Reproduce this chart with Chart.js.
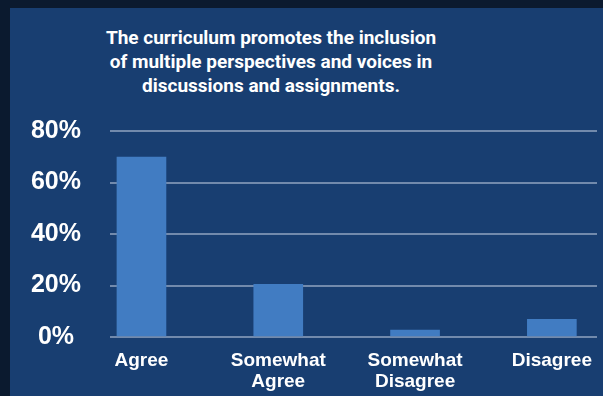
<!DOCTYPE html>
<html>
<head>
<meta charset="utf-8">
<script src="https://cdn.jsdelivr.net/npm/chart.js@4"></script>
<style>
    html, body { margin: 0; padding: 0; }
    body {
        width: 603px; height: 396px; overflow: hidden;
        background: #0b1a2f; position: relative;
    }
    #painel {
        position: absolute; left: 10px; top: 8px; right: 0; bottom: 0;
        background: #183e71;
    }
    #titulo {
        position: absolute; left: 71px; top: 26px; width: 400px;
        text-align: center; color: #ffffff;
        font: 700 19px Roboto, sans-serif; line-height: 24px;
    }
    #grafico { position: absolute; left: 0; top: 0; }
</style>
</head>
<body>
<div id="painel"></div>
<div id="titulo">The curriculum promotes the inclusion<br>of multiple perspectives and voices in<br>discussions and assignments.</div>
<canvas id="grafico" width="603" height="396"></canvas>
<script>
// Dados
const categorias = [['Agree'], ['Somewhat', 'Agree'], ['Somewhat', 'Disagree'], ['Disagree']];
const percentuais = [69.9, 20.5, 2.7, 6.9];
const ticksY = [0, 20, 40, 60, 80];

const fonteEixo = { family: '"Liberation Sans", Arial, sans-serif', weight: 'bold' };

new Chart(document.getElementById('grafico'), {
    type: 'bar',
    data: {
        datasets: [{
            data: percentuais.map((v, i) => ({ x: i, y: v })),
            backgroundColor: '#417cc2',
            borderWidth: 0,
            barThickness: 49
        }]
    },
    options: {
        responsive: false,
        animation: false,
        layout: { padding: { top: 131, right: 6, bottom: 0, left: 0 } },
        plugins: {
            legend: { display: false },
            tooltip: { enabled: false },
            title: { display: false }
        },
        scales: {
            x: {
                type: 'linear',
                offset: false,
                min: -0.23,
                max: 3.33,
                grid: { display: false, offset: false },
                border: { display: false },
                afterBuildTicks: axis => {
                    axis.ticks = categorias.map((c, i) => ({ value: i }));
                },
                afterFit: axis => { axis.height = 59; },
                ticks: {
                    color: '#ffffff',
                    padding: 5,
                    maxRotation: 0,
                    autoSkip: false,
                    font: { ...fonteEixo, size: 19, lineHeight: 1.1 },
                    callback: value => categorias[value]
                }
            },
            y: {
                min: 0,
                max: 80,
                afterBuildTicks: axis => {
                    axis.ticks = ticksY.map(v => ({ value: v }));
                },
                afterFit: axis => { axis.width = 110; },
                grid: { color: '#728aac', lineWidth: 2, drawTicks: false },
                border: { display: false },
                ticks: {
                    color: '#ffffff',
                    padding: 29,
                    crossAlign: 'center',
                    font: { ...fonteEixo, size: 25 },
                    callback: value => value + '%'
                }
            }
        }
    }
});
</script>
</body>
</html>
